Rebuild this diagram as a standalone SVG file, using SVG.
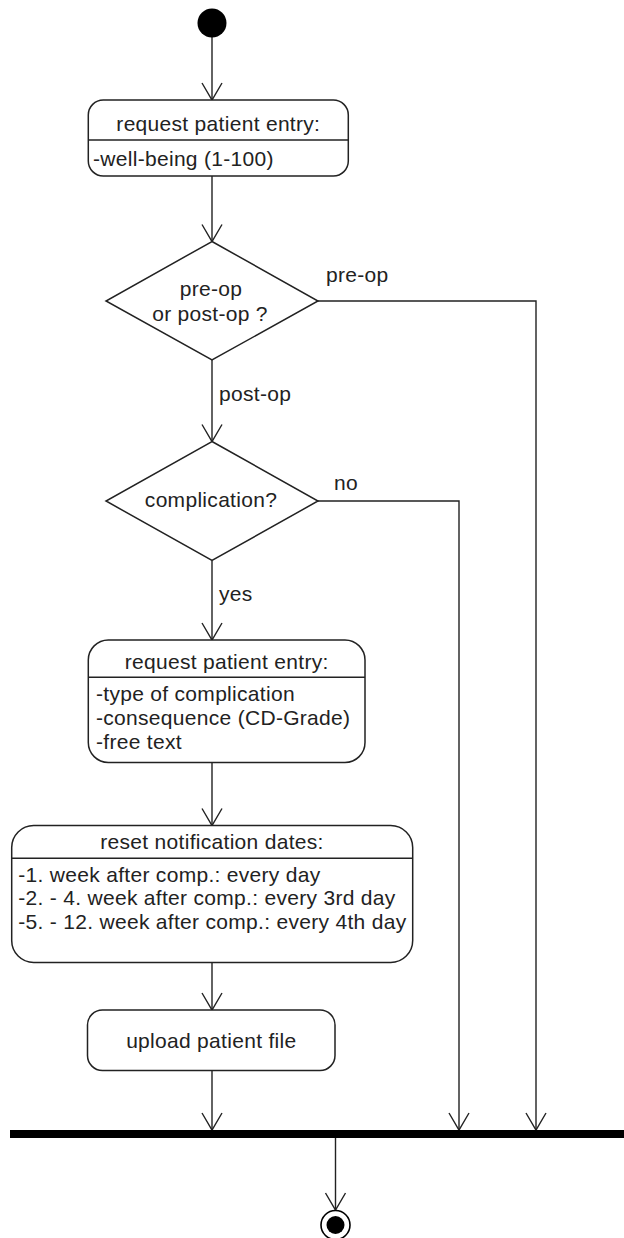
<svg xmlns="http://www.w3.org/2000/svg" width="624" height="1238" viewBox="0 0 624 1238">
<style>
text{font-family:"Liberation Sans",Arial,sans-serif;font-size:21px;fill:#222;letter-spacing:0.3px}
.c{text-anchor:middle}
.box{fill:#fff;stroke:#222;stroke-width:1.5}
.div{stroke:#222;stroke-width:1.5}
.edge{fill:none;stroke:#222;stroke-width:1.4}
.head{fill:none;stroke:#222;stroke-width:1.4}
</style>
<g id="connectors">
<path class="edge" d="M212,37 V100"/>
<path class="edge" d="M212,176 V241.5"/>
<path class="edge" d="M212,360 V441.5"/>
<path class="edge" d="M318,301 H536 V1130"/>
<path class="edge" d="M318,501 H459 V1130"/>
<path class="edge" d="M212,560.5 V640"/>
<path class="edge" d="M212,762.5 V825.5"/>
<path class="edge" d="M212,962.5 V1010"/>
<path class="edge" d="M212,1070.5 V1130"/>
<path class="edge" d="M335.5,1138 V1210"/>
<g class="head">
<path d="M202,83 L212,100 L222,83"/>
<path d="M202,224.5 L212,241.5 L222,224.5"/>
<path d="M202,424.5 L212,441.5 L222,424.5"/>
<path d="M202,623 L212,640 L222,623"/>
<path d="M202,808.5 L212,825.5 L222,808.5"/>
<path d="M202,993 L212,1010 L222,993"/>
<path d="M202,1113 L212,1130 L222,1113"/>
<path d="M449,1113 L459,1130 L469,1113"/>
<path d="M526,1113 L536,1130 L546,1113"/>
<path d="M325.5,1193 L335.5,1210 L345.5,1193"/>
</g>
<text x="326" y="282">pre-op</text>
<text x="219" y="401">post-op</text>
<text x="334" y="490">no</text>
<text x="219" y="601">yes</text>
</g>
<g id="start">
<circle cx="212" cy="23" r="14.5" fill="#000"/>
</g>
<g id="entry1">
<rect class="box" x="88.3" y="100" width="260" height="76" rx="15"/>
<line class="div" x1="88.3" y1="140" x2="348.3" y2="140"/>
<text class="c" x="218.3" y="130.5">request patient entry:</text>
<text x="93" y="165.5">-well-being (1-100)</text>
</g>
<g id="decision1">
<polygon class="box" points="212,241.5 318,301 212,360 106,301"/>
<text class="c" x="211" y="296">pre-op</text>
<text class="c" x="210" y="320.5">or post-op ?</text>
</g>
<g id="decision2">
<polygon class="box" points="212,441.5 318,501 212,560.5 106,501"/>
<text class="c" x="211" y="507">complication?</text>
</g>
<g id="entry2">
<rect class="box" x="88.3" y="640" width="276.7" height="122.5" rx="20"/>
<line class="div" x1="88.3" y1="677.3" x2="365" y2="677.3"/>
<text class="c" x="226.7" y="669">request patient entry:</text>
<text x="96" y="701">-type of complication</text>
<text x="96" y="725">-consequence (CD-Grade)</text>
<text x="96" y="748.5">-free text</text>
</g>
<g id="reset">
<rect class="box" x="11.7" y="825.5" width="401" height="137" rx="22"/>
<line class="div" x1="11.7" y1="858.3" x2="412.7" y2="858.3"/>
<text class="c" x="212" y="849">reset notification dates:</text>
<text x="18.3" y="881.7">-1. week after comp.: every day</text>
<text x="18.3" y="905">-2. - 4. week after comp.: every 3rd day</text>
<text x="18.3" y="929">-5. - 12. week after comp.: every 4th day</text>
</g>
<g id="upload">
<rect class="box" x="87.5" y="1010" width="247.5" height="60.5" rx="15"/>
<text class="c" x="211.3" y="1048.3">upload patient file</text>
</g>
<g id="join">
<rect x="10" y="1130" width="614" height="8" fill="#000"/>
</g>
<g id="end">
<circle cx="335.5" cy="1225" r="14.5" fill="#fff" stroke="#000" stroke-width="1.6"/>
<circle cx="335.5" cy="1225" r="9" fill="#000"/>
</g>
</svg>
